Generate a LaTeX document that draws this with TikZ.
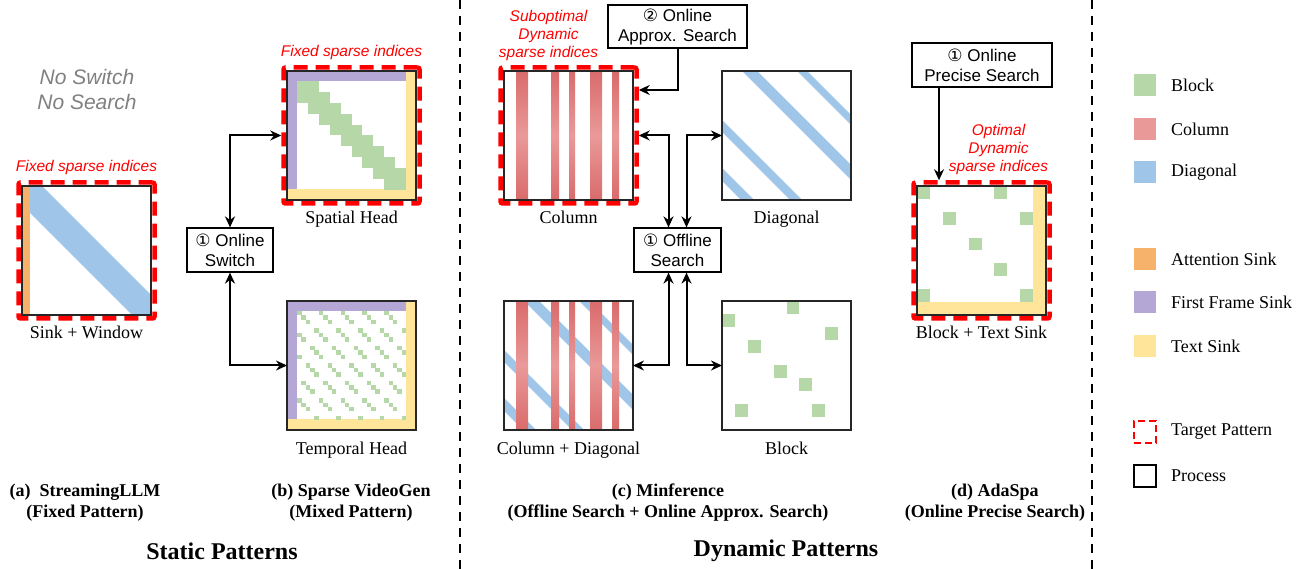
\documentclass[tikz,border=0pt]{standalone}
\usepackage{fontspec}
\setmainfont{Liberation Serif}
\setsansfont{Liberation Sans}
\newfontfamily\circfont{DejaVu Sans}
\usepackage{tikz}
\usetikzlibrary{arrows.meta,backgrounds,calc,fit,positioning}

\definecolor{blockgreen}{HTML}{B6D7A8}
\definecolor{colred}{HTML}{EA9999}
\definecolor{coldark}{HTML}{D96B6B}
\definecolor{diagblue}{HTML}{9FC5E8}
\definecolor{sinkorange}{HTML}{F6B26B}
\definecolor{framepurple}{HTML}{B4A7D6}
\definecolor{textyellow}{HTML}{FFE599}
\definecolor{hintgrey}{HTML}{808080}

\newcommand{\numA}{{\circfont ①}}
\newcommand{\numB}{{\circfont ②}}

% pattern contents, local coordinates (v goes down)
\newcommand{\diagstripes}{%
  \foreach \lo/\hi in {20/35,75/85,-61/-49,-110/-97}
    \fill[diagblue] ({\lo-140},-140) -- ({\hi-140},-140) -- ({\hi+140},140) -- ({\lo+140},140) -- cycle;}
\newcommand{\colstripes}{%
  \foreach \lo/\hi in {12/24,47/55,65/71,86/98,108/115}
    \shade[top color=coldark,bottom color=coldark,middle color=colred] (\lo,0) rectangle (\hi,129);}
\newcommand{\videosinks}{%
  \fill[framepurple] (0,0) rectangle (119,10);
  \fill[framepurple] (0,0) rectangle (10,118);
  \fill[textyellow] (119,0) rectangle (129,129);
  \fill[textyellow] (0,118) rectangle (129,129);}

\begin{document}
\begin{tikzpicture}[x=1pt,y=-1pt,
  mat/.style={draw=black!85,line width=1.4pt,minimum width=129pt,minimum height=129pt,inner sep=0pt,outer sep=0pt},
  target/.style={draw=red,line width=4.5pt,dash pattern=on 14pt off 8pt,rounded corners=2pt,inner sep=3.5pt},
  proc/.style={draw,line width=1.2pt,align=center,inner sep=1pt,minimum height=44pt,font=\sffamily\fontsize{17}{20}\selectfont},
  matcap/.style={font=\fontsize{18}{21}\selectfont,inner sep=0pt,anchor=base},
  hint/.style={text=red,align=center,inner sep=0pt,font=\sffamily\itshape\fontsize{15.5}{18}\selectfont},
  link/.style={{Stealth[length=11pt,width=10pt]}-{Stealth[length=11pt,width=10pt]},line width=2pt},
  arr/.style={-{Stealth[length=11pt,width=10pt]},line width=2pt},
  paneltitle/.style={align=center,font=\bfseries\fontsize{18}{21.5}\selectfont},
  section/.style={font=\bfseries\fontsize{24}{28}\selectfont},
  divider/.style={line width=2pt,dash pattern=on 9pt off 7pt},
  swatch/.style={minimum size=22pt,inner sep=0pt,outer sep=0pt},
  lgtext/.style={font=\fontsize{18}{21}\selectfont,inner sep=0pt}]
\useasboundingbox (0,0) rectangle (1307,569);

% (a) StreamingLLM
\node[mat] (sw) at (86.5,250.5) {};
\begin{scope}[on background layer]
\begin{scope}[shift={(sw.north west)}]
  \clip (0,0) rectangle (129,129);
  \fill[diagblue] (20,0) -- (160,140) -- (121,140) -- (-19,0) -- cycle;
  \fill[sinkorange] (0,0) rectangle (8,129);
\end{scope}
\end{scope}
\node[target,fit=(sw)] (swT) {};
\node[hint,above=5pt of swT] (swHint) {Fixed sparse indices};
\node[matcap] (swCap) at ([yshift=-24pt]sw.south) {Sink + Window};
\node[align=center,text=hintgrey,font=\sffamily\itshape\fontsize{21}{25}\selectfont] (nosearch) at (87,89) {No Switch\\No Search};

% (b) Sparse VideoGen
\node[mat] (spatial) at (351.5,135.5) {};
\node[mat,below=101pt of spatial] (temporal) {};
\begin{scope}[on background layer]
\begin{scope}[shift={(spatial.north west)}]
  \videosinks
  \foreach \k in {0,...,8}
    \fill[blockgreen] ({10+10.9*\k},{10+10.9*\k}) rectangle ++(21.8,21.8);
\end{scope}
\begin{scope}[shift={(temporal.north west)}]
  \videosinks
  \foreach \k in {-4,...,4}{
    \foreach \rj in {0,...,24}{
      \pgfmathtruncatemacro{\ci}{\rj+5*\k}
      \pgfmathtruncatemacro{\gp}{mod(\rj,4)}
      \ifnum\ci>-1 \ifnum\ci<25 \ifnum\gp<3
        \fill[blockgreen] ({10+4.36*\ci},{10+4.36*\rj}) rectangle ++(4.5,4.5);
      \fi\fi\fi
    }
  }
\end{scope}
\end{scope}
\node[target,fit=(spatial)] (spatialT) {};
\node[hint,above=5pt of spatialT] (spatialHint) {Fixed sparse indices};
\node[matcap] (spatialCap) at ([yshift=-24pt]spatial.south) {Spatial Head};
\node[matcap] (temporalCap) at ([yshift=-24pt]temporal.south) {Temporal Head};
\node[proc,minimum width=86pt] (switch) at (230,250) {\numA{} Online\\Switch};
\draw[link] (switch.north) |- (spatialT.west);
\draw[link] (switch.south) |- (temporal.west);

% (c) Minference
\node[mat] (column) at (568.5,135.5) {};
\node[mat,right=89pt of column] (diagonal) {};
\node[mat,below=101pt of column] (coldiag) {};
\node[mat,below=101pt of diagonal] (block) {};
\begin{scope}[on background layer]
\begin{scope}[shift={(column.north west)}]
  \colstripes
\end{scope}
\begin{scope}[shift={(diagonal.north west)}]
  \clip (0,0) rectangle (129,129);
  \diagstripes
\end{scope}
\begin{scope}[shift={(coldiag.north west)}]
  \clip (0,0) rectangle (129,129);
  \diagstripes
  \colstripes
\end{scope}
\begin{scope}[shift={(block.north west)}]
  \foreach \cx/\cy in {5/0,0/1,8/2,2/3,4/5,6/6,1/8,7/8}
    \fill[blockgreen] ({12.9*\cx},{12.9*\cy}) rectangle ++(12.9,12.9);
\end{scope}
\end{scope}
\node[target,fit=(column)] (columnT) {};
\node[hint,above=4pt of columnT,xshift=-20pt] (columnHint) {Suboptimal\\Dynamic\\sparse indices};
\node[matcap] (columnCap) at ([yshift=-24pt]column.south) {Column};
\node[matcap] (diagonalCap) at ([yshift=-24pt]diagonal.south) {Diagonal};
\node[matcap] (coldiagCap) at ([yshift=-24pt]coldiag.south) {Column + Diagonal};
\node[matcap] (blockCap) at ([yshift=-24pt]block.south) {Block};
\node[proc,minimum width=139pt,minimum height=43pt] (approx) at (677.5,26.5) {\numB{} Online\\Approx. Search};
\node[proc,minimum width=87pt] (offline) at (677.5,250) {\numA{} Offline\\Search};
\draw[arr] (approx.south) |- ([yshift=45.5pt]columnT.east);
\draw[link] ([xshift=-9pt]offline.north) |- (columnT.east);
\draw[link] ([xshift=9pt]offline.north) |- (diagonal.west);
\draw[link] ([xshift=-9pt]offline.south) |- (coldiag.east);
\draw[link] ([xshift=9pt]offline.south) |- (block.west);

% (d) AdaSpa
\node[mat] (adaspa) at (981.5,250.5) {};
\begin{scope}[on background layer]
\begin{scope}[shift={(adaspa.north west)}]
  \fill[textyellow] (116,0) rectangle (129,129);
  \fill[textyellow] (0,116) rectangle (129,129);
  \foreach \cx/\cy in {0/0,6/0,2/2,8/2,4/4,6/6,0/8,8/8}
    \fill[blockgreen] ({12.9*\cx},{12.9*\cy}) rectangle ++(12.9,12.9);
\end{scope}
\end{scope}
\node[target,fit=(adaspa)] (adaspaT) {};
\node[hint,above=5pt of adaspaT,xshift=17pt] (adaspaHint) {Optimal\\Dynamic\\sparse indices};
\node[matcap] (adaspaCap) at ([yshift=-24pt]adaspa.south) {Block + Text Sink};
\node[proc,minimum width=140pt] (precise) at (982,65) {\numA{} Online\\Precise Search};
\draw[arr] ([xshift=-43pt]precise.south) -- ([xshift=-43pt]precise.south |- adaspaT.north);

% legend
\foreach \ytop/\col/\txt/\nm in {85/blockgreen/Block/lgblock,129/colred/Column/lgcolumn,172/diagblue/Diagonal/lgdiagonal,259/sinkorange/Attention Sink/lgattn,302/framepurple/First Frame Sink/lgframe,346/textyellow/Text Sink/lgsink}{
  \node[swatch,fill=\col] (\nm) at (1145,\ytop) {};
  \node[lgtext,right=15pt of \nm] {\txt};
}
\node[swatch,draw=red,line width=2pt,dash pattern=on 7pt off 4pt] (lgtarget) at (1145,432) {};
\node[lgtext,right=15pt of lgtarget] {Target Pattern};
\node[swatch,draw,line width=1.2pt] (lgprocess) at (1145,476) {};
\node[lgtext,right=15pt of lgprocess] {Process};

% dividers and titles
\draw[divider] (460,0) -- (460,569);
\draw[divider] (1092,0) -- (1092,569);
\node[paneltitle] (labA) at (85,502.5) {(a)~~StreamingLLM\\(Fixed Pattern)};
\node[paneltitle] (labB) at (351,502.5) {(b) Sparse VideoGen\\(Mixed Pattern)};
\node[paneltitle] (labC) at (668,502.5) {(c) Minference\\(Offline Search + Online Approx. Search)};
\node[paneltitle] (labD) at (995,502.5) {(d) AdaSpa\\(Online Precise Search)};
\node[section] (static) at (222,551) {Static Patterns};
\node[section] (dynamic) at (786,551) {Dynamic Patterns};
\end{tikzpicture}
\end{document}
